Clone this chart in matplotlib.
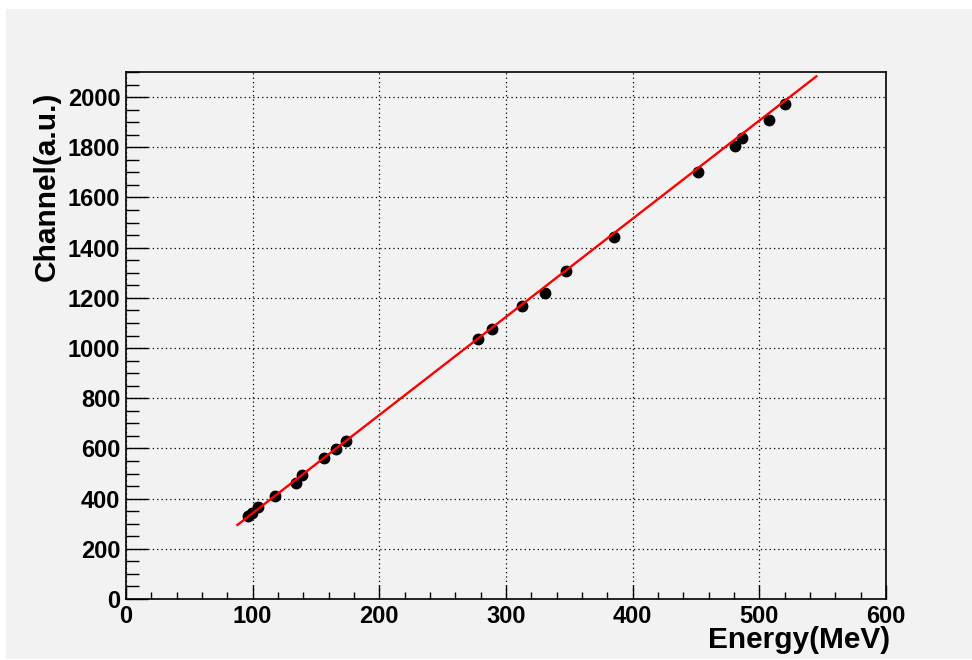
import numpy as np
import matplotlib
matplotlib.use("Agg")
import matplotlib.pyplot as plt
from matplotlib.patches import Rectangle
from matplotlib.ticker import MultipleLocator

# calibration points
energy = [96, 99.5, 104, 117.6, 134, 139, 156.5, 165.5, 173.4,
          277.6, 289.2, 312.9, 330.8, 347.4, 385.3,
          451.8, 480.8, 486.5, 507.6, 520.5]
channel = [330, 342, 365, 410, 463, 495, 563, 596, 631,
           1035, 1076, 1169, 1220, 1306, 1443,
           1701, 1806, 1838, 1907, 1971]
# linear fit (slope, intercept) and its range
fit_params = [3.911, -49.0]
fit_range = [88, 545]

plt.rcParams['font.family'] = ['Liberation Sans', 'DejaVu Sans']
plt.rcParams['font.weight'] = 'bold'

bg = '#f2f2f2'
fig = plt.figure(figsize=(9.72, 6.6), dpi=100, facecolor='white')
fig.patches.append(Rectangle((6 / 972, 1 / 660), 966 / 972, 650 / 660,
                             transform=fig.transFigure, facecolor=bg,
                             edgecolor='none', zorder=-10))

ax = fig.add_axes([126 / 972, 61 / 660, 760 / 972, 527 / 660])
ax.set_facecolor(bg)

xf = np.linspace(fit_range[0], fit_range[1], 50)
ax.plot(energy, channel, 'o', color='black', markersize=7.5, zorder=3)
ax.plot(xf, np.polyval(fit_params, xf), color='red', lw=1.7, zorder=4)

ax.set_xlim(0, 600)
ax.set_ylim(0, 2100)
ax.xaxis.set_major_locator(MultipleLocator(100))
ax.xaxis.set_minor_locator(MultipleLocator(20))
ax.yaxis.set_major_locator(MultipleLocator(200))
ax.yaxis.set_minor_locator(MultipleLocator(50))

ax.tick_params(axis='both', which='both', direction='in', top=False, right=False,
               labelsize=17, width=1.0, color='black')
ax.tick_params(axis='x', which='major', length=10, pad=4)
ax.tick_params(axis='x', which='minor', length=5)
ax.tick_params(axis='y', which='major', length=16, pad=4)
ax.tick_params(axis='y', which='minor', length=9)
for lab in ax.get_xticklabels() + ax.get_yticklabels():
    lab.set_fontweight('bold')

ax.grid(True, which='major', color='black', linestyle=(0, (1, 2.5)), lw=0.9)
ax.set_axisbelow(True)
for s in ax.spines.values():
    s.set_linewidth(1.2)

fig.text(890 / 972, 1 - 648 / 660, 'Energy(MeV)', ha='right', va='baseline',
         fontsize=21.5, fontweight='bold')
fig.text(47 / 972, 1 - 92 / 660, 'Channel(a.u.)', ha='center', va='top',
         rotation=90, fontsize=21.5, fontweight='bold')

fig.savefig('out.png', dpi=100, facecolor='white')
